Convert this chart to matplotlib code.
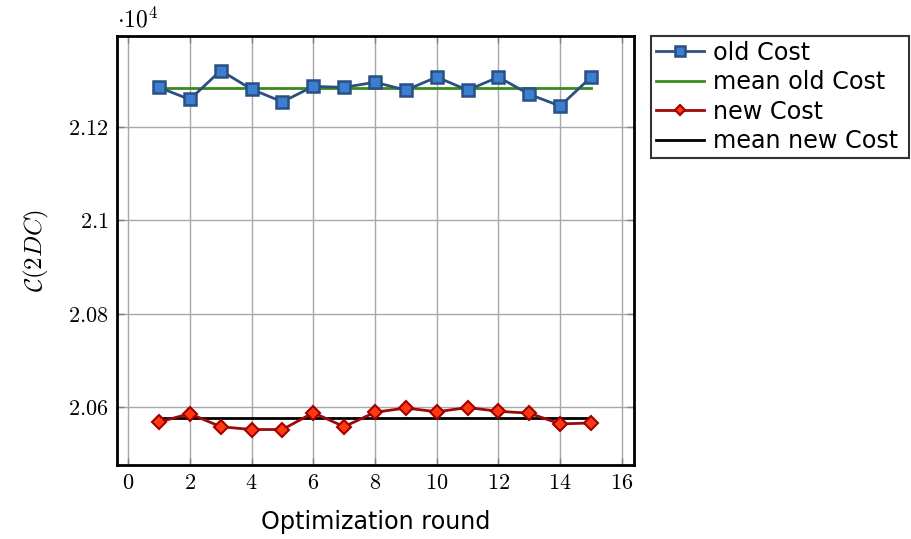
import numpy as np
import matplotlib
matplotlib.use("Agg")
import matplotlib.pyplot as plt

plt.rcParams["mathtext.fontset"] = "cm"

rounds = list(range(1, 16))
old_cost = [21285, 21259, 21321, 21281, 21254, 21287, 21285, 21296,
            21279, 21307, 21279, 21307, 21270, 21245, 21307]
new_cost = [20568, 20586, 20558, 20552, 20552, 20588, 20558, 20589,
            20598, 20590, 20599, 20591, 20587, 20564, 20566]
x_ticks = [0, 2, 4, 6, 8, 10, 12, 14, 16]
y_ticks = [2.06, 2.08, 2.10, 2.12]
y_tick_labels = ["2.06", "2.08", "2.1", "2.12"]

scale = 1e4
old = np.array(old_cost) / scale
new = np.array(new_cost) / scale

fig = plt.figure(figsize=(9.11, 5.39), dpi=100)
ax = fig.add_axes([0.1284, 0.1373, 0.5675, 0.7959])

ax.plot(rounds, old, color="#2b4f82", lw=2, marker="s", ms=9,
        mfc="#3a7fd0", mec="#2b4f82", mew=1.8, label="old Cost", zorder=4)
ax.plot([rounds[0], rounds[-1]], [old.mean()] * 2, color="#3a8a1e", lw=2,
        label="mean old Cost", zorder=3)
ax.plot(rounds, new, color="#9b0a0a", lw=2, marker="D", ms=7,
        mfc="#ff3a10", mec="#a00000", mew=1.5, label="new Cost", zorder=4)
ax.plot([rounds[0], rounds[-1]], [new.mean()] * 2, color="black", lw=2,
        label="mean new Cost", zorder=3)

ax.set_xlim(-0.36, 16.39)
ax.set_ylim(2.0476, 2.1395)
ax.set_xticks(x_ticks)
ax.set_xticklabels([f"${t}$" for t in x_ticks], fontsize=16)
ax.set_yticks(y_ticks)
ax.set_yticklabels([f"${t}$" for t in y_tick_labels], fontsize=16)
ax.grid(True, color="#a8a8a8", lw=1)
ax.set_axisbelow(True)
ax.tick_params(direction="in", length=5, width=1, color="#808080",
               top=True, right=True, pad=6)
for s in ax.spines.values():
    s.set_linewidth(2)
    s.set_color("black")

ax.set_xlabel("Optimization round", fontsize=17.2, family="DejaVu Sans",
              labelpad=12)
ax.set_ylabel(r"$\mathcal{C}(2DC)$", fontsize=18, labelpad=12)
ax.text(0.0, 1.008, r"$\cdot 10^4$", transform=ax.transAxes, fontsize=17,
        ha="left", va="bottom")

leg = ax.legend(loc="upper left", bbox_to_anchor=(1.0329, 0.0, 0.499, 1.0),
                mode="expand",
                prop={"family": "DejaVu Sans", "size": 17.2},
                frameon=True, fancybox=False, borderpad=0.2,
                labelspacing=0.23, handlelength=2.0, handletextpad=0.4,
                borderaxespad=0)
leg.get_frame().set_edgecolor("black")
leg.get_frame().set_linewidth(1.5)
for h in leg.legend_handles:
    h.set_markersize(h.get_markersize() * 0.8)

fig.savefig("out.png", dpi=100)
